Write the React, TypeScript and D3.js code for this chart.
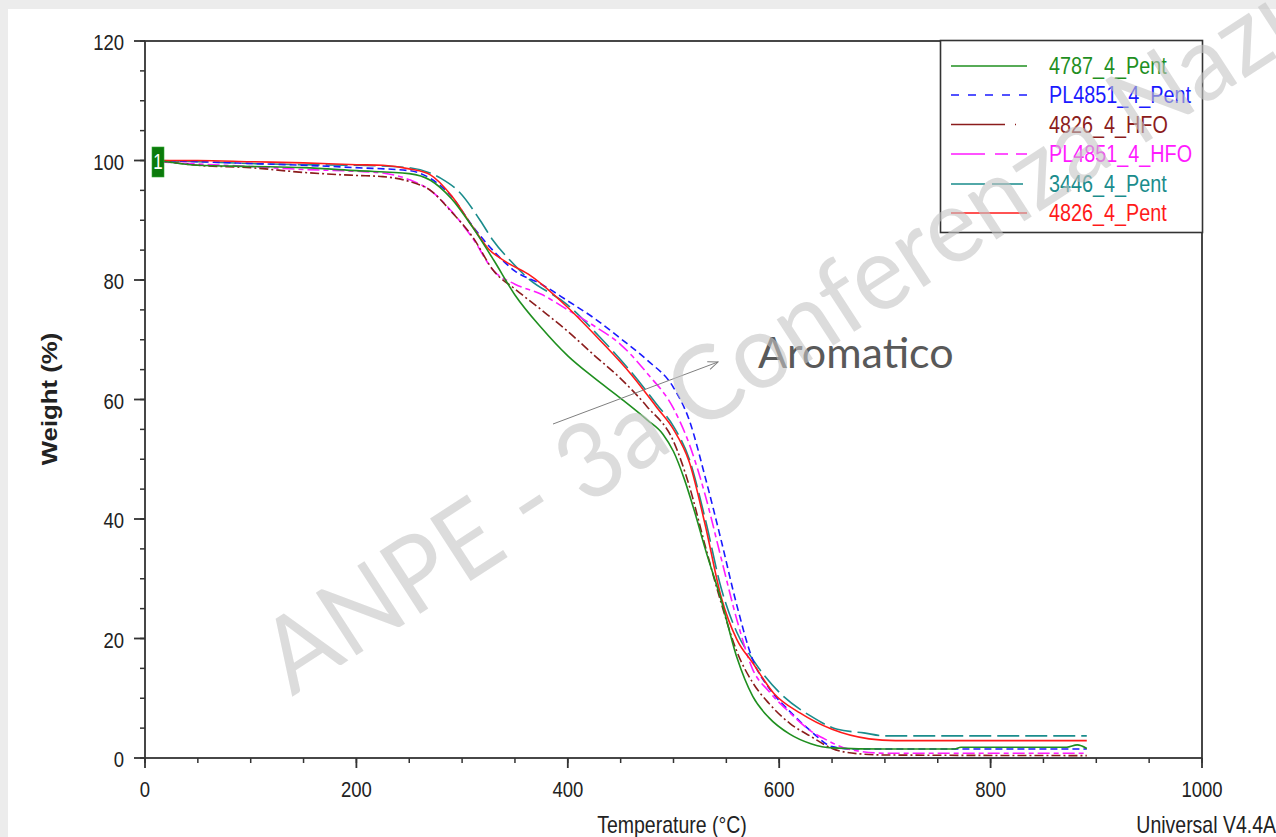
import React from "react";
import * as d3 from "d3";

// ---------- data ----------
const seriesNames = ["4787_4_Pent", "PL4851_4_Pent", "4826_4_HFO", "PL4851_4_HFO", "3446_4_Pent", "4826_4_Pent"];
const seriesColors = ["#1f8f1f", "#1a1aff", "#8b1c1c", "#ff1aff", "#1a8c8c", "#ff1a1a"];

const tGreen = [12, 50, 100, 150, 200, 250, 270, 290, 310, 330, 350, 375, 400, 425, 450, 475, 490, 500, 510, 520, 530, 545, 560, 575, 590, 610, 630, 650, 700, 765, 772, 872, 882, 891];
const wGreen = [100, 99.2, 99, 98.8, 98.3, 97.8, 96.7, 93.6, 88.8, 83.3, 77.5, 72, 67.3, 63.6, 60.2, 56.6, 54.2, 51.3, 46.8, 41.2, 35, 26.5, 16.8, 10.3, 6.8, 4, 2.4, 1.7, 1.5, 1.5, 1.8, 1.8, 2.2, 1.6];

const tBlue = [12, 50, 100, 150, 200, 250, 270, 290, 310, 330, 350, 375, 400, 425, 450, 475, 500, 515, 530, 545, 560, 575, 590, 610, 630, 650, 670, 891];
const wBlue = [100, 99.8, 99.5, 99.2, 98.8, 98.3, 97, 94, 89, 84.8, 81.5, 79.3, 76.5, 73.6, 70.2, 66.6, 62, 56.5, 47, 36.5, 25.5, 16.4, 11.8, 7.8, 4.5, 1.9, 1.5, 1.5];

const tDarkRed = [12, 50, 100, 150, 200, 225, 250, 270, 290, 310, 330, 350, 375, 400, 425, 450, 475, 500, 515, 530, 545, 560, 575, 590, 610, 630, 650, 675, 700, 891];
const wDarkRed = [100, 99.2, 98.8, 98, 97.5, 97.3, 96.5, 95, 91.4, 87.2, 81.5, 78.5, 75, 71.4, 67.4, 63.5, 58.8, 53, 45.5, 35.5, 26, 17.8, 12.6, 9.2, 5.8, 3.6, 1.6, 0.7, 0.5, 0.4];

const tMagenta = [12, 50, 100, 150, 200, 225, 250, 270, 290, 310, 330, 350, 375, 400, 425, 450, 475, 500, 515, 530, 545, 560, 575, 590, 610, 630, 645, 665, 700, 891];
const wMagenta = [99.8, 99.4, 99, 98.5, 98.2, 97.9, 96.8, 95, 91.5, 87, 81.5, 79.3, 77.6, 75, 72.3, 69.2, 64.4, 58.5, 52.5, 44, 33.5, 23.1, 14.8, 11.2, 7.6, 4.5, 3, 1.5, 0.8, 0.8];

const tTeal = [12, 50, 100, 150, 200, 250, 280, 298, 317, 329, 348, 361, 400, 430, 460, 485, 500, 515, 530, 545, 560, 575, 600, 630, 655, 680, 700, 891];
const wTeal = [100, 99.8, 99.5, 99.3, 99.2, 98.8, 97, 94.6, 90, 86.7, 82.8, 80.5, 75.8, 70.5, 64.6, 59, 55.5, 50, 40, 28.5, 21, 16.5, 11, 7, 4.8, 4.2, 3.7, 3.7];

const tRed = [12, 50, 100, 150, 200, 225, 250, 270, 290, 310, 325, 340, 365, 400, 430, 460, 485, 500, 515, 530, 545, 560, 575, 595, 620, 650, 685, 710, 891];
const wRed = [100, 100, 99.8, 99.6, 99.3, 99.2, 98.6, 97.6, 94.1, 88.9, 85.2, 83.2, 80.7, 75.4, 70, 64.2, 58.5, 55, 49.5, 39, 27, 19.8, 15.9, 10.8, 7.5, 4.8, 3.2, 2.9, 2.9];

const xTicks = [0, 200, 400, 600, 800, 1000];
const yTicks = [0, 20, 40, 60, 80, 100, 120];

// ---------- layout ----------
const W = 1276;
const H = 837;
const X0 = 145, X1 = 1202, Y0 = 758, Y1 = 41;

const plotDash = ["", "7,4", "9,3,2,3", "12,4,5,4", "22,6", ""];
const legendDash = ["", "8,9", "54,10,1,100", "34,10,13,8,11,100", "34,7,31,100", ""];

const FONT = "'Liberation Sans', Arial, sans-serif";

export default function App() {
  const x = d3.scaleLinear().domain([0, 1000]).range([X0, X1]);
  const y = d3.scaleLinear().domain([0, 120]).range([Y0, Y1]);

  const line = d3
    .line<[number, number]>()
    .x((d) => x(d[0]))
    .y((d) => y(d[1]))
    .curve(d3.curveMonotoneX);

  const zip = (t: number[], w: number[]) => t.map((v, i) => [v, w[i]] as [number, number]);
  const series = [
    zip(tGreen, wGreen),
    zip(tBlue, wBlue),
    zip(tDarkRed, wDarkRed),
    zip(tMagenta, wMagenta),
    zip(tTeal, wTeal),
    zip(tRed, wRed),
  ];
  const drawOrder = [4, 1, 3, 2, 5, 0];

  const xMinor = d3.range(0, 1001, 50);
  const yMinor = d3.range(0, 121, 5);

  const legendRowsY = [66, 95, 124.5, 154, 184, 213];

  const axisColor = "#333";

  return (
    <div style={{ position: "fixed", left: 0, top: 0 }}>
      <svg width={W} height={H} style={{ display: "block" }}>
        <defs>
          <marker id="arrow" viewBox="0 0 12 10" refX="11" refY="5" markerWidth="12" markerHeight="10" markerUnits="userSpaceOnUse" orient="auto">
            <path d="M1,1 L11,5 L1,9" fill="none" stroke="#7f7f7f" strokeWidth={1} />
          </marker>
        </defs>
        <rect x={0} y={0} width={W} height={H} fill="#ececec" />
        <rect x={8} y={9} width={W - 8} height={H - 9} fill="#ffffff" />

        {/* minor ticks */}
        {yMinor.map((v) => (
          <line key={"ym" + v} x1={X0 - 5} x2={X0} y1={y(v)} y2={y(v)} stroke={axisColor} strokeWidth={1.5} />
        ))}
        {xMinor.map((v) => (
          <line key={"xm" + v} x1={x(v)} x2={x(v)} y1={Y0} y2={Y0 + 5} stroke={axisColor} strokeWidth={1.5} />
        ))}
        {/* major ticks */}
        {yTicks.map((v) => (
          <line key={"yM" + v} x1={X0 - 11} x2={X0} y1={y(v)} y2={y(v)} stroke={axisColor} strokeWidth={1.8} />
        ))}
        {xTicks.map((v) => (
          <line key={"xM" + v} x1={x(v)} x2={x(v)} y1={Y0} y2={Y0 + 10} stroke={axisColor} strokeWidth={1.8} />
        ))}
        {/* frame */}
        <rect x={X0} y={Y1} width={X1 - X0} height={Y0 - Y1} fill="none" stroke={axisColor} strokeWidth={1.8} />

        {/* tick labels */}
        {yTicks.map((v) => (
          <text key={"yl" + v} transform={`translate(${X0 - 21},${y(v) + 9}) scale(1,1.2)`} textAnchor="end" fontFamily={FONT} fontSize={18.5} fill="#222">
            {v}
          </text>
        ))}
        {xTicks.map((v) => (
          <text key={"xl" + v} transform={`translate(${x(v)},${797}) scale(1,1.2)`} textAnchor="middle" fontFamily={FONT} fontSize={18.5} fill="#222">
            {v}
          </text>
        ))}

        {/* axis titles */}
        <text transform={`translate(${672},${833}) scale(1,1.2)`} textAnchor="middle" fontFamily={FONT} fontSize={19.5} fill="#222">
          Temperature (°C)
        </text>
        <text transform={`translate(${1276},${833}) scale(1,1.2)`} textAnchor="end" fontFamily={FONT} fontSize={19.5} fill="#222">
          Universal V4.4A
        </text>
        <text transform={`translate(${57},${399}) rotate(-90) scale(1.12,1)`} textAnchor="middle" fontFamily={FONT} fontSize={23} fontWeight="bold" fill="#222">
          Weight (%)
        </text>

        {/* data lines */}
        {drawOrder.map((i) => (
          <path
            key={"s" + i}
            d={line(series[i]) || ""}
            fill="none"
            stroke={seriesColors[i]}
            strokeWidth={1.6}
            strokeDasharray={plotDash[i] || undefined}
          />
        ))}

        {/* start marker */}
        <rect x={152} y={147} width={12} height={30} fill="#0b7a0b" stroke="#3a3" strokeWidth={0.6} />
        <text transform={`translate(${158},${169}) scale(1,1.25)`} textAnchor="middle" fontFamily={FONT} fontSize={17} fill="#fff">
          1
        </text>

        {/* legend */}
        <rect x={940.5} y={40.5} width={262} height={192} fill="#fff" stroke={axisColor} strokeWidth={1.6} />
        {seriesNames.map((name, i) => (
          <g key={"lg" + i}>
            <line
              x1={951}
              x2={i === 2 || i === 3 || i === 4 ? 1029 : 1027}
              y1={legendRowsY[i]}
              y2={legendRowsY[i]}
              stroke={seriesColors[i]}
              strokeWidth={1.6}
              strokeDasharray={legendDash[i] || undefined}
            />
            <text transform={`translate(${1049},${legendRowsY[i] + 8}) scale(1,1.2)`} fontFamily={FONT} fontSize={19.8} fill={seriesColors[i]}>
              {name}
            </text>
          </g>
        ))}

        {/* annotation */}
        <line x1={553} y1={424} x2={718} y2={362} stroke="#7f7f7f" strokeWidth={1} markerEnd="url(#arrow)" />
        <text x={758} y={368} fontFamily="Lato, 'Open Sans', sans-serif" fontSize={43} fill="#595959">
          Aromatico
        </text>

        {/* watermark */}
        <text
          transform="translate(292,697) rotate(-33) scale(0.96,1)"
          fontFamily="Lato, 'Open Sans', sans-serif"
          fontSize={104}
          fill="#c4c4c4"
          fillOpacity={0.6}
        >
          ANPE - 3a Conferenza Nazionale
        </text>
      </svg>
    </div>
  );
}
